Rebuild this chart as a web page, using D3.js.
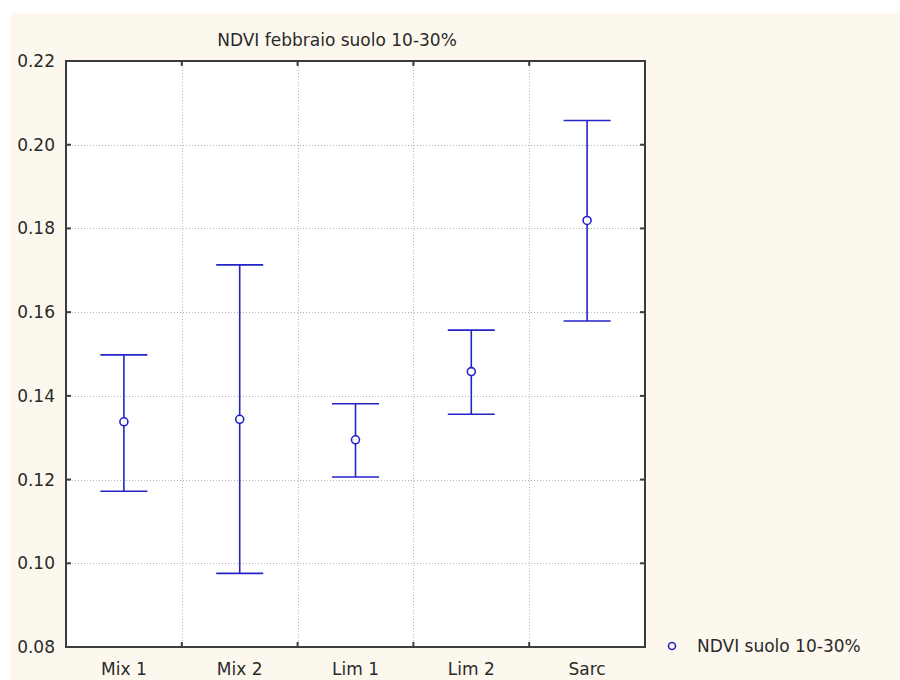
<!DOCTYPE html>
<html>
<head>
<meta charset="utf-8">
<script src="https://cdn.jsdelivr.net/npm/d3@7"></script>
<style>
  html, body { margin: 0; padding: 0; background: #ffffff; }
  svg { display: block; }
  text { font-family: "DejaVu Sans", "Liberation Sans", Arial, sans-serif; fill: #2a2a2a; }
</style>
</head>
<body>
<svg id="chart" width="900" height="680"></svg>
<script>
// Group labels and NDVI summary values (mean with lower / upper bounds)
const categories = ["Mix 1", "Mix 2", "Lim 1", "Lim 2", "Sarc"];
const means = [0.1338, 0.1344, 0.1295, 0.1458, 0.1819];
const lowers = [0.1172, 0.0976, 0.1206, 0.1356, 0.1579];
const uppers = [0.1498, 0.1713, 0.1381, 0.1557, 0.2058];
const yTicks = [0.08, 0.10, 0.12, 0.14, 0.16, 0.18, 0.20, 0.22];
const titleText = "NDVI febbraio suolo 10-30%";
const legendText = "NDVI suolo 10-30%";

const W = 900, H = 680;
const plot = { left: 66, right: 645, top: 61, bottom: 647 };
const blue = "#2323c8";
const axisColor = "#3c3c3c";
const fontSize = 17;

const svg = d3.select("#chart");

// Panel background
svg.append("rect").attr("x", 10).attr("y", 13)
  .attr("width", W - 10).attr("height", H - 13).attr("fill", "#fdf8ee");
svg.append("rect").attr("x", plot.left).attr("y", plot.top)
  .attr("width", plot.right - plot.left).attr("height", plot.bottom - plot.top)
  .attr("fill", "#ffffff");

const x = d3.scaleBand().domain(categories).range([plot.left, plot.right]).padding(0);
const y = d3.scaleLinear().domain([0.08, 0.22]).range([plot.bottom, plot.top]);

// Grid: vertical lines between groups, horizontal lines at y ticks
const bounds = categories.slice(1).map(c => x(c));
const grid = svg.append("g").attr("stroke", "#b4b4b4").attr("stroke-width", 1)
  .attr("stroke-dasharray", "1,2");
grid.selectAll("line.v").data(bounds).join("line").attr("class", "v")
  .attr("x1", d => Math.round(d) + 0.5).attr("x2", d => Math.round(d) + 0.5)
  .attr("y1", plot.top).attr("y2", plot.bottom);
grid.selectAll("line.h").data(yTicks.slice(1, -1)).join("line").attr("class", "h")
  .attr("y1", d => Math.round(y(d)) + 0.5).attr("y2", d => Math.round(y(d)) + 0.5)
  .attr("x1", plot.left).attr("x2", plot.right);

// Frame
svg.append("rect").attr("x", plot.left).attr("y", plot.top)
  .attr("width", plot.right - plot.left).attr("height", plot.bottom - plot.top)
  .attr("fill", "none").attr("stroke", axisColor).attr("stroke-width", 2);

// Inward tick marks on all four sides
const ticks = svg.append("g").attr("stroke", axisColor).attr("stroke-width", 2);
const tl = 5;
ticks.selectAll("line.yl").data(yTicks.slice(1, -1)).join("line")
  .attr("x1", plot.left).attr("x2", plot.left + tl)
  .attr("y1", d => y(d)).attr("y2", d => y(d));
ticks.selectAll("line.yr").data(yTicks.slice(1, -1)).join("line")
  .attr("x1", plot.right - tl).attr("x2", plot.right)
  .attr("y1", d => y(d)).attr("y2", d => y(d));
ticks.selectAll("line.xb").data(bounds).join("line")
  .attr("x1", d => d).attr("x2", d => d)
  .attr("y1", plot.bottom - tl).attr("y2", plot.bottom);
ticks.selectAll("line.xt").data(bounds).join("line")
  .attr("x1", d => d).attr("x2", d => d)
  .attr("y1", plot.top).attr("y2", plot.top + tl);

// Axis labels
svg.append("g").selectAll("text").data(yTicks).join("text")
  .attr("x", 55).attr("y", d => y(d) + 6)
  .attr("text-anchor", "end").attr("font-size", fontSize)
  .text(d3.format(".2f"));
svg.append("g").selectAll("text").data(categories).join("text")
  .attr("x", d => x(d) + x.bandwidth() / 2).attr("y", 675)
  .attr("text-anchor", "middle").attr("font-size", fontSize)
  .text(d => d);

// Title
svg.append("text").attr("x", 337).attr("y", 46)
  .attr("text-anchor", "middle").attr("font-size", fontSize).text(titleText);

// Error bars with mean markers
const cap = 23.5;
const rows = categories.map((c, i) => ({ c, m: means[i], lo: lowers[i], hi: uppers[i] }));
const bars = svg.append("g").attr("stroke", blue).attr("stroke-width", 1.6).attr("fill", "none");
const g = bars.selectAll("g").data(rows).join("g")
  .attr("transform", d => `translate(${x(d.c) + x.bandwidth() / 2},0)`);
g.append("line").attr("x1", 0).attr("x2", 0).attr("y1", d => y(d.hi)).attr("y2", d => y(d.lo));
g.append("line").attr("x1", -cap).attr("x2", cap).attr("y1", d => y(d.hi)).attr("y2", d => y(d.hi));
g.append("line").attr("x1", -cap).attr("x2", cap).attr("y1", d => y(d.lo)).attr("y2", d => y(d.lo));
g.append("circle").attr("cx", 0).attr("cy", d => y(d.m)).attr("r", 4).attr("fill", "#ffffff");

// Legend
svg.append("circle").attr("cx", 672).attr("cy", 646).attr("r", 3.5)
  .attr("fill", "#ffffff").attr("stroke", blue).attr("stroke-width", 1.6);
svg.append("text").attr("x", 697).attr("y", 652).attr("font-size", fontSize).text(legendText);
</script>
</body>
</html>
